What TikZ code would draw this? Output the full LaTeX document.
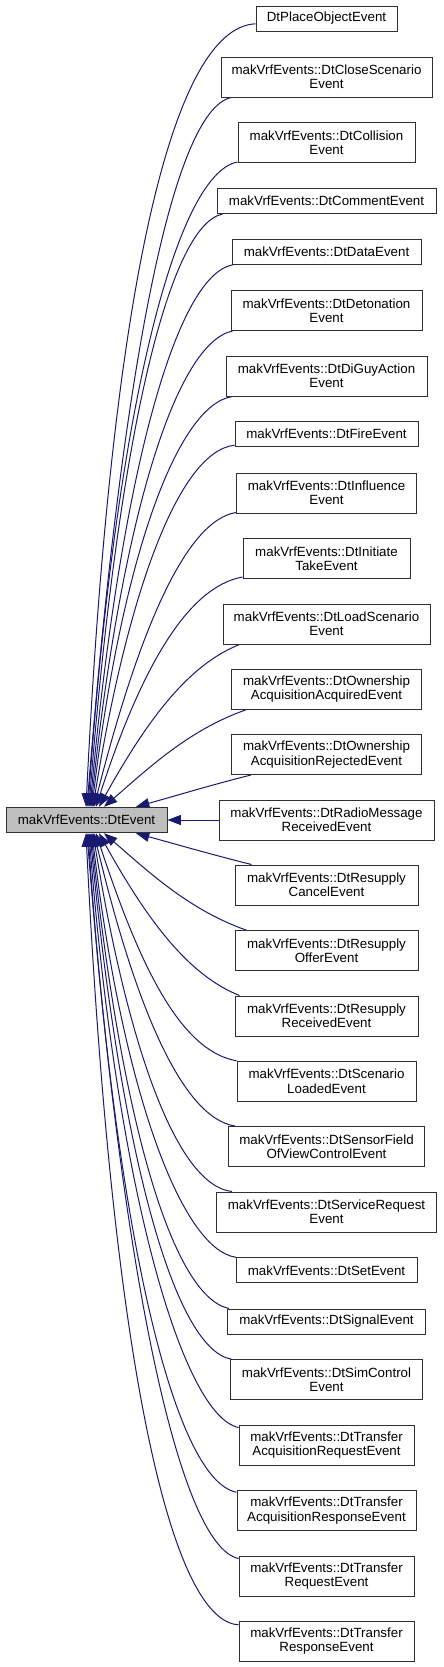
\documentclass[tikz,border=0pt]{standalone}
\usepackage{fontspec}
\setmainfont{Liberation Sans}
\usetikzlibrary{arrows.meta,calc}
\definecolor{edgeblue}{HTML}{191970}
\definecolor{rootgray}{HTML}{BFBFBF}
\definecolor{boxline}{HTML}{303030}
\pgfdeclarelayer{bg}
\pgfsetlayers{bg,main}
\tikzset{
  cls/.style={draw=boxline, fill=white, line width=0.75pt, align=center, inner sep=0pt,
    font=\fontsize{10pt}{10.8pt}\selectfont},
  root/.style={cls, fill=rootgray},
  hone/.style={minimum height=18.75pt},
  htwo/.style={minimum height=30pt},
  inh/.style={draw=edgeblue, line width=0.75pt, -{Triangle[length=10pt,width=7.5pt]}},
}
\begin{document}
\begin{tikzpicture}[x=0.75pt,y=-0.75pt]
\useasboundingbox (0,0) rectangle (443,1667);

\node[root, minimum width=120.75pt, minimum height=19.1pt] (ev) at (86.5,820) {makVrfEvents::DtEvent};

\node[cls, hone, minimum width=105.75pt] (c1) at (326.5,18.5) {DtPlaceObjectEvent};
\node[cls, htwo, minimum width=158.25pt] (c2) at (326.5,77) {makVrfEvents::DtCloseScenario\\Event};
\node[cls, htwo, minimum width=132.75pt] (c3) at (326.5,142.5) {makVrfEvents::DtCollision\\Event};
\node[cls, hone, minimum width=164.25pt] (c4) at (326.5,201) {makVrfEvents::DtCommentEvent};
\node[cls, hone, minimum width=141.75pt] (c5) at (326.5,251.8) {makVrfEvents::DtDataEvent};
\node[cls, htwo, minimum width=143.25pt] (c6) at (326.5,310.5) {makVrfEvents::DtDetonation\\Event};
\node[cls, htwo, minimum width=150.75pt] (c7) at (326.5,376) {makVrfEvents::DtDiGuyAction\\Event};
\node[cls, hone, minimum width=137.25pt] (c8) at (326.5,434.2) {makVrfEvents::DtFireEvent};
\node[cls, htwo, minimum width=135pt] (c9) at (326.5,493) {makVrfEvents::DtInfluence\\Event};
\node[cls, htwo, minimum width=125.25pt] (c10) at (326.5,558.5) {makVrfEvents::DtInitiate\\TakeEvent};
\node[cls, htwo, minimum width=155.25pt] (c11) at (326.5,624) {makVrfEvents::DtLoadScenario\\Event};
\node[cls, htwo, minimum width=142.5pt] (c12) at (326.5,689.3) {makVrfEvents::DtOwnership\\AcquisitionAcquiredEvent};
\node[cls, htwo, minimum width=142.5pt] (c13) at (326.5,754.5) {makVrfEvents::DtOwnership\\AcquisitionRejectedEvent};
\node[cls, htwo, minimum width=161.25pt] (c14) at (326.5,820) {makVrfEvents::DtRadioMessage\\ReceivedEvent};
\node[cls, htwo, minimum width=137.25pt] (c15) at (326.5,885) {makVrfEvents::DtResupply\\CancelEvent};
\node[cls, htwo, minimum width=137.25pt] (c16) at (326.5,950.7) {makVrfEvents::DtResupply\\OfferEvent};
\node[cls, htwo, minimum width=137.25pt] (c17) at (326.5,1016) {makVrfEvents::DtResupply\\ReceivedEvent};
\node[cls, htwo, minimum width=134.25pt] (c18) at (326.5,1081.3) {makVrfEvents::DtScenario\\LoadedEvent};
\node[cls, htwo, minimum width=147pt] (c19) at (326.5,1146.5) {makVrfEvents::DtSensorField\\OfViewControlEvent};
\node[cls, htwo, minimum width=165pt] (c20) at (326.5,1212) {makVrfEvents::DtServiceRequest\\Event};
\node[cls, hone, minimum width=135.75pt] (c21) at (326.5,1270.3) {makVrfEvents::DtSetEvent};
\node[cls, hone, minimum width=148.5pt] (c22) at (326.5,1321.5) {makVrfEvents::DtSignalEvent};
\node[cls, htwo, minimum width=144pt] (c23) at (326.5,1379.7) {makVrfEvents::DtSimControl\\Event};
\node[cls, htwo, minimum width=131.25pt] (c24) at (326.5,1445) {makVrfEvents::DtTransfer\\AcquisitionRequestEvent};
\node[cls, htwo, minimum width=134.25pt] (c25) at (326.5,1510.7) {makVrfEvents::DtTransfer\\AcquisitionResponseEvent};
\node[cls, htwo, minimum width=131.25pt] (c26) at (326.5,1576) {makVrfEvents::DtTransfer\\RequestEvent};
\node[cls, htwo, minimum width=131.25pt] (c27) at (326.5,1641.3) {makVrfEvents::DtTransfer\\ResponseEvent};

\begin{pgfonlayer}{bg}
% upper children
\draw[inh] ($(c1.south west)+(0,-7.7)$) .. controls +(-85,4) and +(25,-510) .. ($(ev.north)+(-0.5,0)$);
\draw[inh] ($(c2.south west)+(10.7,0)$) .. controls +(-60,13) and +(34,-426) .. ($(ev.north)+(0.5,0)$);
\draw[inh] ($(c3.south west)+(0,-1)$) .. controls +(-63,12) and +(27,-388) .. ($(ev.north)+(1.5,0)$);
\draw[inh] ($(c4.south west)+(6,0)$) .. controls +(-56,12) and +(28,-356) .. ($(ev.north)+(2.5,0)$);
\draw[inh] ($(c5.south west)+(1.5,0)$) .. controls +(-58,10) and +(30,-326) .. ($(ev.north)+(3.5,0)$);
\draw[inh] ($(c6.south west)+(2,0)$) .. controls +(-57,12) and +(30,-286) .. ($(ev.north)+(4.5,0)$);
\draw[inh] ($(c7.south west)+(7,0)$) .. controls +(-55,8) and +(30,-250) .. ($(ev.north)+(5.5,0)$);
\draw[inh] ($(c8.south west)+(0,-2)$) .. controls +(-55,6) and +(35,-217) .. ($(ev.north)+(6.5,0)$);
\draw[inh] ($(c9.south west)+(0,-1)$) .. controls +(-50,8) and +(45,-177) .. ($(ev.north)+(7.5,0)$);
\draw[inh] ($(c10.south west)+(0,-2)$) .. controls +(-55,10) and +(45,-139) .. ($(ev.north)+(9.5,0)$);
\draw[inh] ($(c11.south west)+(17,0)$) .. controls +(-50,20) and +(50,-90) .. ($(ev.north)+(12.5,0)$);
\draw[inh] ($(c12.south west)+(15,0)$) .. controls +(-57,20) and +(45,-39) .. ($(ev.north)+(17.5,0)$);
\draw[inh] ($(c13.south west)+(20,0)$) .. controls +(-40,10) and +(40,-11) .. ($(ev.north)+(49.5,0)$);
% middle
\draw[inh] (c14.west) -- (ev.east);
% lower children
\draw[inh] ($(c15.north west)+(17,0)$) .. controls +(-40,-10) and +(40,11) .. ($(ev.south)+(49.5,0)$);
\draw[inh] ($(c16.north west)+(12,0)$) .. controls +(-57,-20) and +(45,39) .. ($(ev.south)+(17.5,0)$);
\draw[inh] ($(c17.north west)+(5,0)$) .. controls +(-50,-20) and +(50,90) .. ($(ev.south)+(12.5,0)$);
\draw[inh] ($(c18.north west)+(0,0)$) .. controls +(-55,-10) and +(45,137) .. ($(ev.south)+(9.5,0)$);
\draw[inh] ($(c19.north west)+(7,0)$) .. controls +(-52,-8) and +(42,176) .. ($(ev.south)+(7.5,0)$);
\draw[inh] ($(c20.north west)+(16,0)$) .. controls +(-55,-6) and +(35,215) .. ($(ev.south)+(6.5,0)$);
\draw[inh] ($(c21.north west)+(0.5,0)$) .. controls +(-55,-8) and +(30,255) .. ($(ev.south)+(5.5,0)$);
\draw[inh] ($(c22.north west)+(2,0)$) .. controls +(-57,-12) and +(30,286) .. ($(ev.south)+(4.5,0)$);
\draw[inh] ($(c23.north west)+(1.5,0)$) .. controls +(-58,-10) and +(30,316) .. ($(ev.south)+(3.5,0)$);
\draw[inh] ($(c24.north west)+(0,3)$) .. controls +(-56,-12) and +(28,357) .. ($(ev.south)+(2.5,0)$);
\draw[inh] ($(c25.north west)+(0,2)$) .. controls +(-63,-12) and +(27,396) .. ($(ev.south)+(1.5,0)$);
\draw[inh] ($(c26.north west)+(0,3)$) .. controls +(-60,-13) and +(34,436) .. ($(ev.south)+(0.5,0)$);
\draw[inh] ($(c27.north west)+(0,4)$) .. controls +(-70,-4) and +(25,515) .. ($(ev.south)+(-0.5,0)$);
\end{pgfonlayer}
\end{tikzpicture}
\end{document}
